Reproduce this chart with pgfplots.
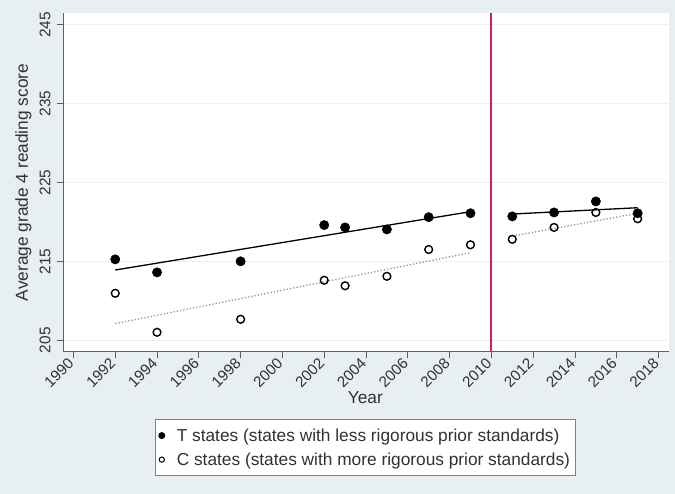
\documentclass[border=0pt]{standalone}
\usepackage{pgfplots}
\pgfplotsset{compat=1.18}
\usepackage{fontspec}
\setmainfont{Liberation Sans}
\definecolor{bg}{RGB}{232,239,242}
\definecolor{gridc}{RGB}{234,241,243}
\definecolor{policyred}{RGB}{222,30,75}
\definecolor{axc}{RGB}{95,95,95}
\definecolor{txt}{RGB}{50,50,50}
\definecolor{fitc}{RGB}{150,150,150}

\begin{document}
\begin{tikzpicture}
\fill[bg] (0,0) rectangle (675pt,494pt);
\begin{axis}[
  at={(63pt,142pt)}, anchor=south west,
  scale only axis, width=606pt, height=339pt,
  xmin=1989.5, xmax=2018.5, ymin=203.5, ymax=246.5,
  axis background/.style={fill=white},
  axis x line*=bottom, axis y line*=left,
  axis line style={-, draw=axc, line width=1pt},
  xtick={1990,1992,...,2018}, ytick={205,215,225,235,245},
  tick align=outside, major tick length=6pt,
  tick style={draw=axc, line width=0.9pt},
  ymajorgrids, grid style={draw=gridc, line width=1.2pt},
  /pgf/number format/assume math mode=true,
  /pgf/number format/set thousands separator={},
  xticklabel style={rotate=45, anchor=east, font=\fontsize{15.2}{17}\selectfont, text=txt},
  yticklabel style={rotate=90, anchor=south, font=\fontsize{15.4}{17}\selectfont, text=txt},
  yticklabel shift=3pt,
  xlabel={Year}, ylabel={Average grade 4 reading score},
  every axis x label/.style={at={(axis description cs:0.499,-0.1357)}, anchor=center, font=\fontsize{17.3}{20}\selectfont, text=txt},
  every axis y label/.style={at={(axis description cs:-0.046,0.5)}, rotate=90, anchor=south, font=\fontsize{17.3}{20}\selectfont, text=txt},
  legend style={at={(axis description cs:0.499,-0.198)}, anchor=north, draw=gray, line width=0.9pt, fill=white,
    font=\fontsize{17.3}{20}\selectfont, text=txt, row sep=6pt, column sep=10pt, inner xsep=3pt, inner ysep=7pt,
    nodes={inner sep=2pt}},
  legend cell align=left,
]
% policy line
\addplot[color=policyred, line width=2.2pt, forget plot, mark=none] coordinates {(2010,203.5) (2010,246.5)};
% linear fits
\addplot[black, line width=1.3pt, forget plot] coordinates {(1992,213.9) (2009,221.3)};
\addplot[black, line width=1.3pt, forget plot] coordinates {(2011,221.0) (2017,221.8)};
\addplot[fitc, line width=1.3pt, dotted, forget plot] coordinates {(1992,207.1) (2009,216.1)};
\addplot[fitc, line width=1.3pt, dotted, forget plot] coordinates {(2011,218.2) (2017,221.1)};
% T states
\addplot[only marks, mark=*, mark size=4.7pt, black, legend image post style={mark size=3pt}] coordinates {
(1992,215.25) (1994,213.6) (1998,215.0) (2002,219.6) (2003,219.3) (2005,219.05)
(2007,220.6) (2009,221.1) (2011,220.7) (2013,221.2) (2015,222.6) (2017,221.1)};
\addlegendentry{T states (states with less rigorous prior standards)}
% C states
\addplot[only marks, mark=o, mark size=3.9pt, black, line width=1.4pt, legend image post style={mark size=2.6pt, line width=1pt}] coordinates {
(1992,210.95) (1994,206.0) (1998,207.65) (2002,212.6) (2003,211.9) (2005,213.1)
(2007,216.5) (2009,217.1) (2011,217.8) (2013,219.3) (2015,221.2) (2017,220.4)};
\addlegendentry{C states (states with more rigorous prior standards)}
\end{axis}
\pgfresetboundingbox
\path (0,0) rectangle (675pt,494pt);
\end{tikzpicture}
\end{document}
